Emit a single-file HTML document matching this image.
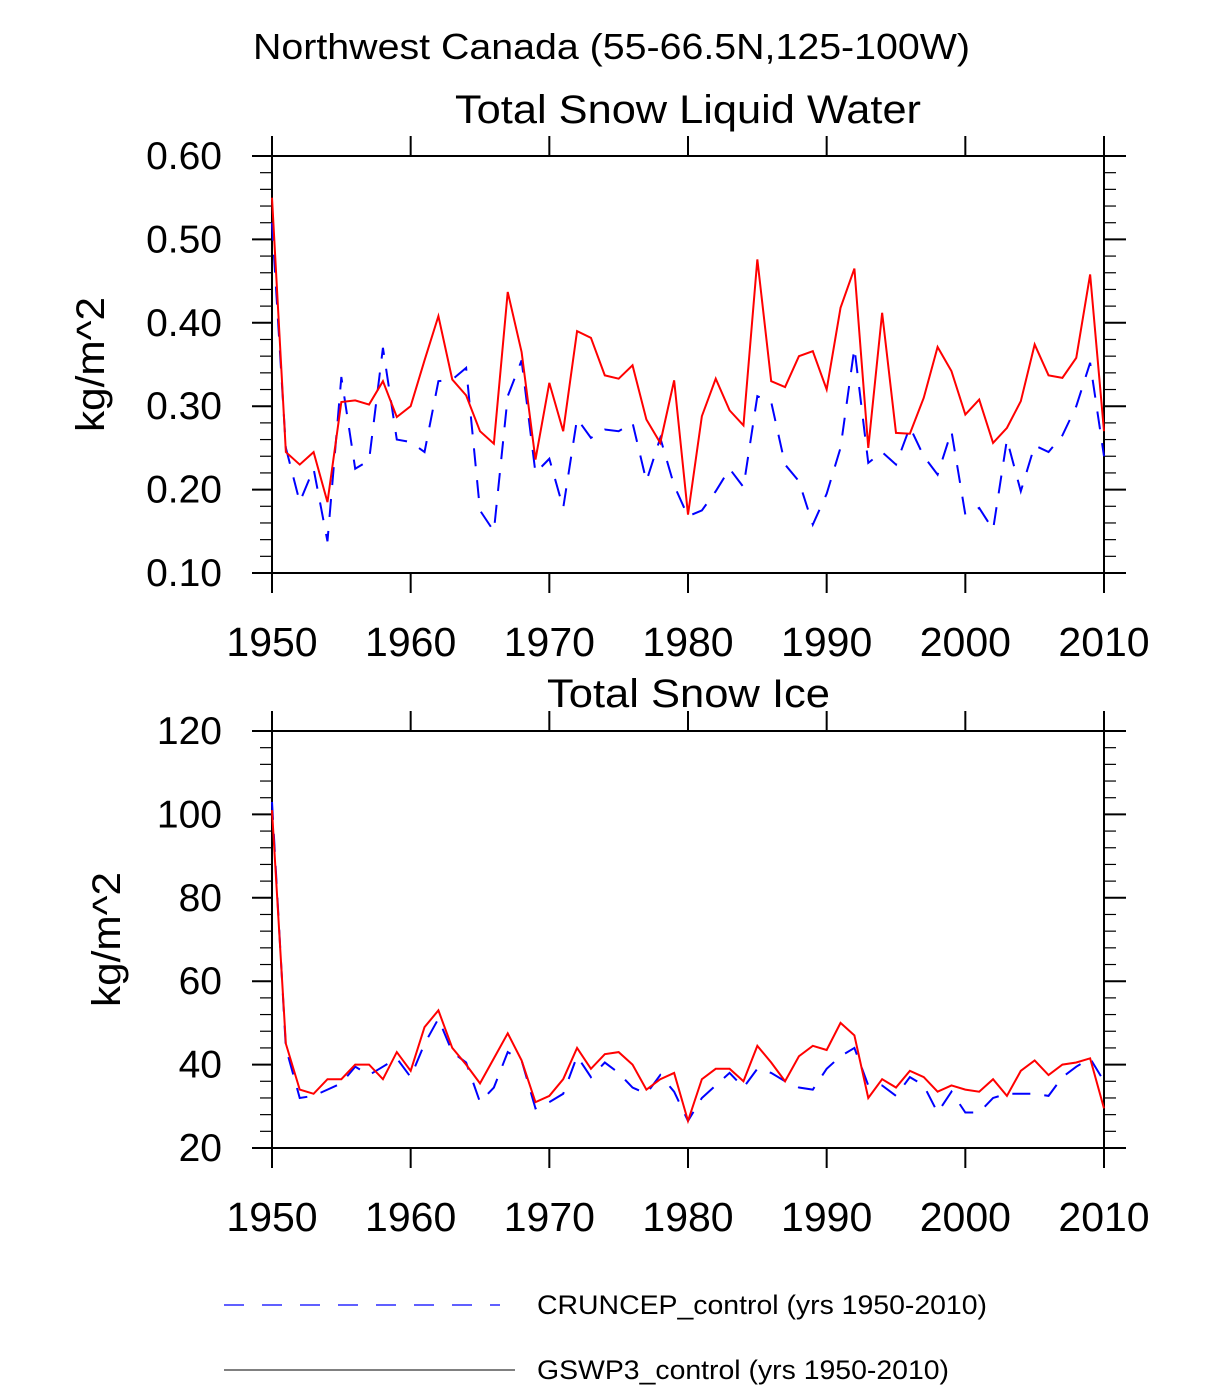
<!DOCTYPE html>
<html><head><meta charset="utf-8"><style>
body{margin:0;background:#fff;}
svg text{font-family:"Liberation Sans",Arial,sans-serif;fill:#000;}
</style></head><body>
<svg id="chart" width="1224" height="1386" xmlns="http://www.w3.org/2000/svg">
<text x="253" y="59" font-size="36" textLength="717" lengthAdjust="spacingAndGlyphs">Northwest Canada (55-66.5N,125-100W)</text>
<text x="455" y="123" font-size="40" textLength="466" lengthAdjust="spacingAndGlyphs">Total Snow Liquid Water</text>
<text x="547" y="707" font-size="40" textLength="283" lengthAdjust="spacingAndGlyphs">Total Snow Ice</text>
<g id="p1"></g><g id="p2"></g>
<line x1="224" y1="1305" x2="500" y2="1305" stroke="#00f" stroke-width="1.2" stroke-dasharray="20,18"/>
<text x="537" y="1314" font-size="27" textLength="450" lengthAdjust="spacingAndGlyphs">CRUNCEP_control (yrs 1950-2010)</text>
<line x1="224" y1="1370" x2="515" y2="1370" stroke="#000" stroke-width="1"/>
<text x="537" y="1379" font-size="27" textLength="412" lengthAdjust="spacingAndGlyphs">GSWP3_control (yrs 1950-2010)</text>
</svg>
<script>
const years=[];for(let y=1950;y<=2010;y++)years.push(y);
const xTicks=[1950,1960,1970,1980,1990,2000,2010];
const liqGswp3=[0.55,0.245,0.23,0.245,0.185,0.305,0.307,0.302,0.33,0.287,0.30,0.355,0.408,0.332,0.313,0.27,0.255,0.437,0.365,0.236,0.328,0.27,0.39,0.382,0.337,0.333,0.349,0.284,0.256,0.331,0.17,0.288,0.333,0.295,0.277,0.476,0.33,0.323,0.36,0.366,0.32,0.418,0.465,0.25,0.412,0.268,0.267,0.31,0.371,0.342,0.29,0.308,0.256,0.274,0.306,0.374,0.337,0.334,0.358,0.458,0.27];
const liqCruncep=[0.52,0.25,0.185,0.225,0.138,0.335,0.225,0.235,0.37,0.26,0.257,0.245,0.33,0.332,0.346,0.175,0.15,0.312,0.355,0.22,0.237,0.178,0.285,0.262,0.272,0.27,0.28,0.21,0.262,0.205,0.168,0.175,0.198,0.225,0.203,0.312,0.305,0.23,0.21,0.158,0.195,0.25,0.37,0.232,0.245,0.23,0.275,0.24,0.218,0.27,0.17,0.178,0.152,0.26,0.198,0.253,0.245,0.265,0.3,0.352,0.24];
const iceGswp3=[101,45,34,33,36.5,36.5,40,40,36.5,43,38.5,49,53,44,40,35.5,41.5,47.5,41,31,32.5,36.5,44,39,42.5,43,40,34,36.5,38,26.5,36.5,39,39,36,44.5,40.5,36,42,44.5,43.5,50,47,32,36.5,34.5,38.5,37,33.5,35,34,33.5,36.5,32.5,38.5,41,37.5,40,40.5,41.5,29.5];
const iceCruncep=[103,44,32,32.5,34,35.5,39.5,37.5,39.5,41.5,37,45,51,43,40.5,31,34.5,43,41,29.5,31,33,42,37,40.5,38,34.5,33,37.5,33.5,26.5,32,35,38,34.5,39,38,36,34.5,34,39,42,44,35,35,32.5,37,35,28.5,33.5,28.5,28.5,32,33,33,33,32.5,37,39.5,41.5,36];
const liqTicks=[0.10,0.20,0.30,0.40,0.50,0.60];
const liqTickLabels=["0.10","0.20","0.30","0.40","0.50","0.60"];
const iceTicks=[20,40,60,80,100,120];
const iceTickLabels=["20","40","60","80","100","120"];
const NS="http://www.w3.org/2000/svg";
function mk(g,tag,a){const e=document.createElementNS(NS,tag);for(const k in a)e.setAttribute(k,a[k]);g.appendChild(e);return e;}
function panel(gid,top,ymin,ymax,ticks,labels,minorStep,s1,s2,titleY){
 const g=document.getElementById(gid);const L=272,R=1104,T=top,B=top+417;
 const xs=v=>L+(v-1950)/60*(R-L);const ys=v=>B-(v-ymin)/(ymax-ymin)*(B-T);
 const f=mk(g,'rect',{x:L,y:T,width:R-L,height:B-T,fill:'none',stroke:'#000','stroke-width':2});
 
 for(let v=ymin;v<=ymax+1e-9;v+=minorStep){const y=ys(v);
  mk(g,'line',{x1:L-12,y1:y,x2:L,y2:y,stroke:'#000','stroke-width':1.2});
  mk(g,'line',{x1:R,y1:y,x2:R+12,y2:y,stroke:'#000','stroke-width':1.2});}
 ticks.forEach((v,i)=>{const y=ys(v);
  mk(g,'line',{x1:L-20,y1:y,x2:L,y2:y,stroke:'#000','stroke-width':2});
  mk(g,'line',{x1:R,y1:y,x2:R+22,y2:y,stroke:'#000','stroke-width':2});
  const t=mk(g,'text',{x:222,y:y+13,'font-size':39,'text-anchor':'end'});t.textContent=labels[i];
  });
 for(let yr=1950;yr<=2010;yr+=2){const x=xs(yr);const maj=xTicks.includes(yr);
  mk(g,'line',{x1:x,y1:B,x2:x,y2:B+(maj?20:0),stroke:'#000','stroke-width':2});}
 xTicks.forEach(yr=>{const x=xs(yr);
  mk(g,'line',{x1:x,y1:T-20,x2:x,y2:T,stroke:'#000','stroke-width':2});
  const t=mk(g,'text',{x:x,y:B+83,'font-size':41,'text-anchor':'middle'});t.textContent=yr;
  });
 const yt=mk(g,'text',{x:0,y:0,'font-size':40,'text-anchor':'middle',textLength:135,lengthAdjust:'spacingAndGlyphs',transform:`translate(${titleY},${(T+B)/2}) rotate(-90)`});
 yt.textContent='kg/m^2';
 const p=a=>a.map((v,i)=>`${xs(years[i])},${ys(v)}`).join(' ');
 const lb=mk(g,'polyline',{points:p(s2),fill:'none',stroke:'#00f','stroke-width':2,'stroke-dasharray':'18,14'});
 
 const lr=mk(g,'polyline',{points:p(s1),fill:'none',stroke:'#f00','stroke-width':2});
 
}
panel('p1',156,0.10,0.60,liqTicks,liqTickLabels,0.02,liqGswp3,liqCruncep,104);
panel('p2',731,20,120,iceTicks,iceTickLabels,4,iceGswp3,iceCruncep,120);
</script>
</body></html>
